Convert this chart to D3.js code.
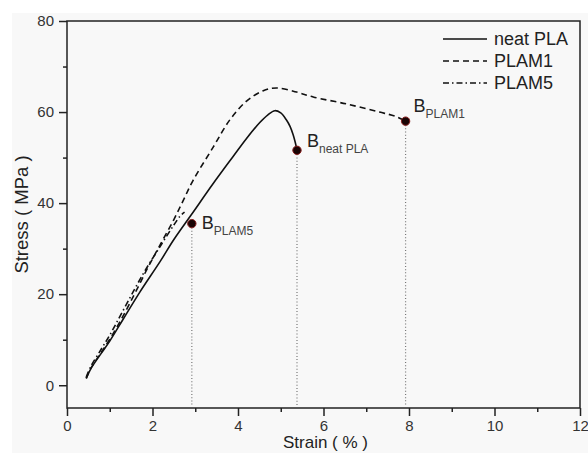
<!DOCTYPE html>
<html>
<head>
<meta charset="utf-8">
<script src="https://cdn.jsdelivr.net/npm/d3@7"></script>
<style>
  body { margin: 0; background: #fff; }
  text { font-family: "Liberation Sans", Arial, sans-serif; }
</style>
</head>
<body>
<div id="chart"></div>
<script>
// stress-strain curves
const neatStrain = [0.45, 0.55, 0.8, 1.0, 1.32, 1.7, 2.18, 2.5, 2.92, 3.42, 3.89, 4.2, 4.51, 4.7, 4.86, 5.0, 5.13, 5.22, 5.29, 5.34, 5.38];
const neatStress = [1.5, 3.5, 7, 9.7, 14.6, 20.4, 27.2, 32.0, 37.6, 44.3, 50.3, 54.2, 57.7, 59.4, 60.3, 59.8, 58.3, 56.8, 55.0, 53.3, 51.6];

const plam1Strain = [0.45, 0.55, 0.8, 1.0, 1.3, 1.6, 1.9, 2.2, 2.5, 2.72, 2.95, 3.42, 3.81, 4.2, 4.59, 4.9, 5.37, 5.76, 6.53, 7.31, 7.7, 7.92];
const plam1Stress = [1.5, 3.6, 7.2, 10.1, 15.0, 20.4, 26.0, 31.2, 36.4, 40.6, 45.0, 52.3, 58.3, 62.4, 64.7, 65.3, 64.4, 63.3, 61.8, 60.0, 59.0, 58.0];

const plam5Strain = [0.45, 0.55, 0.8, 1.0, 1.3, 1.79, 2.2, 2.5, 2.65, 2.75];
const plam5Stress = [1.8, 4.0, 7.9, 11.0, 16.2, 24.6, 30.8, 35.2, 37.2, 38.0];

const seriesNames = ["neat PLA", "PLAM1", "PLAM5"];

// break points
const breakNames = ["PLAM5", "neat PLA", "PLAM1"];
const breakStrain = [2.92, 5.38, 7.92];
const breakStress = [35.5, 51.6, 58.0];

const xTicks = [0, 2, 4, 6, 8, 10, 12];
const yTicks = [0, 20, 40, 60, 80];

const W = 588, H = 453;
const margin = { top: 21, right: 8, bottom: 45, left: 67 };

const svg = d3.select("#chart").append("svg")
  .attr("width", W).attr("height", H);

svg.append("rect")
  .attr("x", 12).attr("y", 13)
  .attr("width", W - 12).attr("height", H - 13)
  .attr("fill", "#f8f8f8");

const x = d3.scaleLinear().domain([0, 12]).range([margin.left, W - margin.right]);
const y = d3.scaleLinear().domain([-5, 80]).range([H - margin.bottom, margin.top]);

// axes (major + minor ticks)
svg.append("g")
  .attr("transform", `translate(0,${y(-5)})`)
  .call(d3.axisBottom(x).tickValues(xTicks).tickSize(8).tickPadding(4).tickFormat(d3.format("d")));
svg.append("g")
  .attr("transform", `translate(0,${y(-5)})`)
  .call(d3.axisBottom(x).tickValues(d3.range(1, 12, 2)).tickSize(4).tickFormat(""));

svg.append("g")
  .attr("transform", `translate(${x(0)},0)`)
  .call(d3.axisLeft(y).tickValues(yTicks).tickSize(8).tickPadding(5).tickFormat(d3.format("d")));
svg.append("g")
  .attr("transform", `translate(${x(0)},0)`)
  .call(d3.axisLeft(y).tickValues([10, 30, 50, 70]).tickSize(4).tickFormat(""));

svg.selectAll(".domain").remove();
svg.selectAll(".tick line").attr("stroke", "#222").attr("stroke-width", 1.5);
svg.selectAll(".tick text").attr("fill", "#333").style("font-size", "15px");

// frame
svg.append("rect")
  .attr("x", x(0)).attr("y", y(80))
  .attr("width", x(12) - x(0)).attr("height", y(-5) - y(80))
  .attr("fill", "none").attr("stroke", "#222").attr("stroke-width", 1.5);

// axis titles
svg.append("text")
  .attr("x", (x(0) + x(12)) / 2 + 2).attr("y", 448)
  .attr("text-anchor", "middle").attr("fill", "#222")
  .style("font-size", "17px")
  .text("Strain ( % )");

svg.append("text")
  .attr("transform", `translate(28,${y(37.5)}) rotate(-90)`)
  .attr("text-anchor", "middle").attr("fill", "#222")
  .style("font-size", "18.5px")
  .text("Stress ( MPa )");

// dotted drop lines
svg.append("g").selectAll("line")
  .data(breakStrain)
  .join("line")
  .attr("x1", d => x(d)).attr("x2", d => x(d))
  .attr("y1", (d, i) => y(breakStress[i]) + 4)
  .attr("y2", y(-5) - 2)
  .attr("stroke", "#777").attr("stroke-width", 1.2)
  .attr("stroke-dasharray", "1,2.2");

// curves
const line = d3.line()
  .x(d => x(d[0]))
  .y(d => y(d[1]))
  .curve(d3.curveCatmullRom);

const curves = [
  { pts: d3.zip(neatStrain, neatStress), dash: null },
  { pts: d3.zip(plam1Strain, plam1Stress), dash: "6,4" },
  { pts: d3.zip(plam5Strain, plam5Stress), dash: "6,3,1.5,3" }
];

svg.append("g").selectAll("path")
  .data(curves)
  .join("path")
  .attr("d", d => line(d.pts))
  .attr("fill", "none")
  .attr("stroke", "#111")
  .attr("stroke-width", 1.6)
  .attr("stroke-dasharray", d => d.dash);

// break markers
svg.append("g").selectAll("circle")
  .data(breakStrain)
  .join("circle")
  .attr("cx", d => x(d))
  .attr("cy", (d, i) => y(breakStress[i]))
  .attr("r", 4.2)
  .attr("fill", "#1a0505")
  .attr("stroke", "#8a2020")
  .attr("stroke-width", 1);

// label offsets from the marker (px)
const labelDx = [10, 10, 8];
const labelDy = [5, -3, -9];

const lab = svg.append("g").selectAll("text")
  .data(breakNames)
  .join("text")
  .attr("x", (d, i) => x(breakStrain[i]) + labelDx[i])
  .attr("y", (d, i) => y(breakStress[i]) + labelDy[i])
  .attr("fill", "#222");
lab.append("tspan").style("font-size", "18px").text("B");
lab.append("tspan").attr("dy", 6).attr("fill", "#444")
  .style("font-size", "12px").text(d => d);

// legend
const legendDash = [null, "6,4", "6,3,1.5,3"];
const leg = svg.append("g").selectAll("g")
  .data(seriesNames)
  .join("g")
  .attr("transform", (d, i) => `translate(443,${39 + i * 22})`);
leg.append("line")
  .attr("x1", 0).attr("x2", 44)
  .attr("stroke", "#111").attr("stroke-width", 1.6)
  .attr("stroke-dasharray", (d, i) => legendDash[i]);
leg.append("text")
  .attr("x", 51).attr("y", 6)
  .attr("fill", "#222")
  .style("font-size", "18px")
  .text(d => d);
</script>
</body>
</html>
